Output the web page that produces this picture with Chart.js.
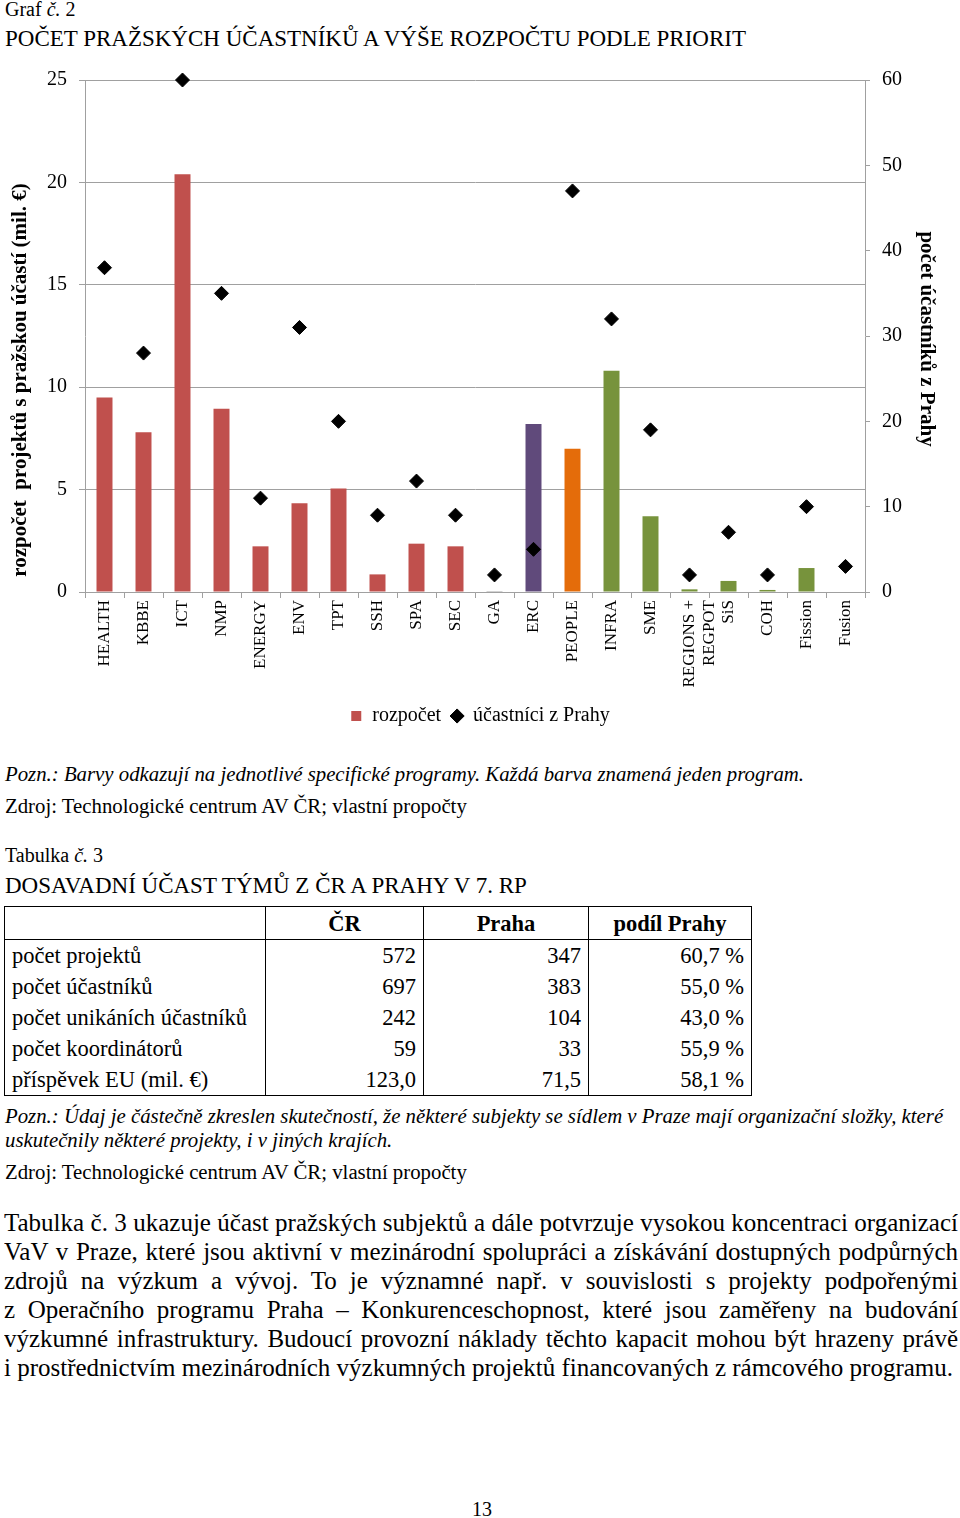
<!DOCTYPE html>
<html lang="cs">
<head>
<meta charset="utf-8">
<title>Graf č. 2</title>
<script src="https://cdn.jsdelivr.net/npm/chart.js@4.4.1/dist/chart.umd.min.js"></script>
<style>
  body {
    margin: 0;
    width: 960px;
    height: 1518px;
    position: relative;
    overflow: hidden;
    background: #fff;
    color: #000;
    font-family: "Liberation Serif", "Times New Roman", serif;
  }
  .t { position: absolute; left: 5px; white-space: nowrap; }
  .cap { font-size: 20px; line-height: 20px; }
  .head { font-size: 23px; line-height: 22px; }
  .note { font-size: 20.8px; line-height: 24px; }
  #chart-box { position: absolute; left: 0; top: 56px; width: 960px; height: 684px; }
  table {
    position: absolute;
    left: 4px;
    top: 906px;
    border-collapse: collapse;
    font-size: 22.5px;
  }
  td, th { border-left: 1px solid #000; border-right: 1px solid #000; padding: 0 7px; height: 31px; line-height: 31px; }
  th { font-weight: bold; height: 32px; border-top: 1px solid #000; border-bottom: 1px solid #000; text-align: center; }
  tr:last-child td { border-bottom: 1px solid #000; }
  td.n { text-align: right; }
  .par {
    position: absolute;
    left: 4px;
    width: 954px;
    font-size: 25px;
    line-height: 29px;
  }
  .par div { text-align: justify; text-align-last: justify; height: 29px; overflow: hidden; }
  .par div.last { text-align: left; text-align-last: left; }
</style>
</head>
<body>

<div class="t cap" style="top:-1px">Graf <i>č.</i> 2</div>
<div class="t head" style="top:28px">POČET PRAŽSKÝCH ÚČASTNÍKŮ A VÝŠE ROZPOČTU PODLE PRIORIT</div>

<div id="chart-box"><canvas id="priority-chart" width="960" height="684"></canvas></div>

<div class="t note" style="top:762px"><i>Pozn.: Barvy odkazují na jednotlivé specifické programy. Každá barva znamená jeden program.</i></div>
<div class="t note" style="top:794px">Zdroj: Technologické centrum AV ČR; vlastní propočty</div>

<div class="t cap" style="top:845px">Tabulka <i>č.</i> 3</div>
<div class="t head" style="top:875px">DOSAVADNÍ ÚČAST TÝMŮ Z ČR A PRAHY V 7. RP</div>

<table>
  <tr><th style="width:246px"></th><th style="width:143px">ČR</th><th style="width:150px">Praha</th><th style="width:148px">podíl Prahy</th></tr>
  <tr><td>počet projektů</td><td class="n">572</td><td class="n">347</td><td class="n">60,7 %</td></tr>
  <tr><td>počet účastníků</td><td class="n">697</td><td class="n">383</td><td class="n">55,0 %</td></tr>
  <tr><td>počet unikáních účastníků</td><td class="n">242</td><td class="n">104</td><td class="n">43,0 %</td></tr>
  <tr><td>počet koordinátorů</td><td class="n">59</td><td class="n">33</td><td class="n">55,9 %</td></tr>
  <tr><td>příspěvek EU (mil. €)</td><td class="n">123,0</td><td class="n">71,5</td><td class="n">58,1 %</td></tr>
</table>

<div class="t note" style="top:1104px"><i>Pozn.: Údaj je částečně zkreslen skutečností, že některé subjekty se sídlem v Praze mají organizační složky, které</i></div>
<div class="t note" style="top:1128px"><i>uskutečnily některé projekty, i v jiných krajích.</i></div>
<div class="t note" style="top:1160px">Zdroj: Technologické centrum AV ČR; vlastní propočty</div>

<div class="par" style="top:1208px">
  <div>Tabulka č. 3 ukazuje účast pražských subjektů a dále potvrzuje vysokou koncentraci organizací</div>
  <div>VaV v Praze, které jsou aktivní v mezinárodní spolupráci a získávání dostupných podpůrných</div>
  <div>zdrojů na výzkum a vývoj. To je významné např. v souvislosti s projekty podpořenými</div>
  <div>z Operačního programu Praha – Konkurenceschopnost, které jsou zaměřeny na budování</div>
  <div>výzkumné infrastruktury. Budoucí provozní náklady těchto kapacit mohou být hrazeny právě</div>
  <div class="last">i prostřednictvím mezinárodních výzkumných projektů financovaných z rámcového programu.</div>
</div>

<div class="t cap" style="top:1499px; left:472px">13</div>

<script>
// priorities of the 7th framework programme
const categories = ['HEALTH', 'KBBE', 'ICT', 'NMP', 'ENERGY', 'ENV', 'TPT', 'SSH', 'SPA', 'SEC',
    'GA', 'ERC', 'PEOPLE', 'INFRA', 'SME', ['REGIONS +', 'REGPOT'], 'SiS', 'COH', 'Fission', 'Fusion'];

// specific programme each priority belongs to (decides the bar colour)
const programme = ['Spolupráce', 'Spolupráce', 'Spolupráce', 'Spolupráce', 'Spolupráce',
    'Spolupráce', 'Spolupráce', 'Spolupráce', 'Spolupráce', 'Spolupráce',
    'Obecné', 'Myšlenky', 'Lidé', 'Kapacity', 'Kapacity', 'Kapacity', 'Kapacity', 'Kapacity',
    'Euratom', 'Euratom'];

// rozpočet projektů s pražskou účastí (mil. €)
const budget = [9.5, 7.8, 20.4, 8.95, 2.23, 4.33, 5.05, 0.86, 2.36, 2.23,
    0.05, 8.2, 7.0, 10.8, 3.7, 0.13, 0.54, 0.1, 1.17, 0];

// počet účastníků z Prahy
const participants = [38, 28, 60, 35, 11, 31, 20, 9, 13, 9,
    2, 5, 47, 32, 19, 2, 7, 2, 10, 3];

const budgetTicks = [0, 5, 10, 15, 20, 25];
const participantTicks = [0, 10, 20, 30, 40, 50, 60];

const programmeColors = {
    'Spolupráce': '#C0504D',
    'Obecné': '#A6A6A6',
    'Myšlenky': '#604A7B',
    'Lidé': '#E46C0A',
    'Kapacity': '#77933C',
    'Euratom': '#77933C'
};

const leftTitle = 'rozpočet  projektů s pražskou účastí (mil. €)';
const rightTitle = 'počet účastníků z Prahy';

const gridColor = '#A0A0A0';
const serif = '"Liberation Serif", "Times New Roman", serif';

// axis titles sit off-centre in the original, so draw them by hand
const axisTitles = {
    id: 'axisTitles',
    afterDraw(chart) {
        const ctx = chart.ctx;
        ctx.save();
        ctx.font = 'bold 21px ' + serif;
        ctx.fillStyle = '#000';
        ctx.textAlign = 'center';
        ctx.textBaseline = 'middle';
        ctx.translate(21, 324);
        ctx.rotate(-Math.PI / 2);
        ctx.fillText(leftTitle, 0, 0);
        ctx.restore();

        ctx.save();
        ctx.font = 'bold 21px ' + serif;
        ctx.fillStyle = '#000';
        ctx.textAlign = 'center';
        ctx.textBaseline = 'middle';
        ctx.translate(926, 283);
        ctx.rotate(Math.PI / 2);
        ctx.fillText(rightTitle, 0, 0);
        ctx.restore();
    }
};

const step = (ticks) => ticks[1] - ticks[0];

const priorityChart = new Chart(
    document.getElementById('priority-chart').getContext('2d'),
    {
        type: 'bar',
        data: {
            labels: categories,
            datasets: [
                {
                    type: 'line',
                    label: 'účastníci z Prahy',
                    data: participants,
                    yAxisID: 'y2',
                    showLine: false,
                    pointStyle: 'rectRot',
                    pointRadius: 7,
                    pointHoverRadius: 7,
                    pointBorderWidth: 1,
                    backgroundColor: '#000',
                    borderColor: '#000',
                    clip: false,
                    order: 0
                },
                {
                    label: 'rozpočet',
                    data: budget,
                    yAxisID: 'y',
                    backgroundColor: programme.map(p => programmeColors[p]),
                    barPercentage: 0.41,
                    categoryPercentage: 1,
                    pointStyle: 'rect',
                    order: 1
                }
            ]
        },
        options: {
            responsive: false,
            animation: false,
            devicePixelRatio: 1,
            layout: { padding: { top: 23, left: 0, right: 0, bottom: 4 } },
            plugins: {
                legend: {
                    position: 'bottom',
                    reverse: true,
                    labels: {
                        usePointStyle: true,
                        boxWidth: 12,
                        boxHeight: 10,
                        padding: 10,
                        color: '#000',
                        font: { family: serif, size: 20 }
                    }
                },
                tooltip: { enabled: false }
            },
            scales: {
                x: {
                    afterFit(scale) { scale.height = 104; },
                    grid: {
                        offset: true,
                        drawOnChartArea: false,
                        drawTicks: true,
                        tickLength: 6,
                        color: gridColor
                    },
                    border: { color: gridColor, width: 1 },
                    ticks: {
                        minRotation: 90,
                        maxRotation: 90,
                        autoSkip: false,
                        padding: 2,
                        color: '#000',
                        font: { family: serif, size: 17 }
                    }
                },
                y: {
                    position: 'left',
                    min: budgetTicks[0],
                    max: budgetTicks[budgetTicks.length - 1],
                    afterFit(scale) { scale.width = 85; },
                    grid: { color: gridColor, tickLength: 6 },
                    border: { color: gridColor, width: 1 },
                    ticks: {
                        stepSize: step(budgetTicks),
                        padding: 12,
                        color: '#000',
                        font: { family: serif, size: 20 }
                    }
                },
                y2: {
                    position: 'right',
                    min: participantTicks[0],
                    max: participantTicks[participantTicks.length - 1],
                    afterFit(scale) { scale.width = 95; },
                    grid: { drawOnChartArea: false, color: gridColor, tickLength: 5 },
                    border: { color: gridColor, width: 1 },
                    ticks: {
                        stepSize: step(participantTicks),
                        padding: 12,
                        color: '#000',
                        font: { family: serif, size: 20 }
                    }
                }
            }
        },
        plugins: [axisTitles]
    }
);
</script>
</body>
</html>
